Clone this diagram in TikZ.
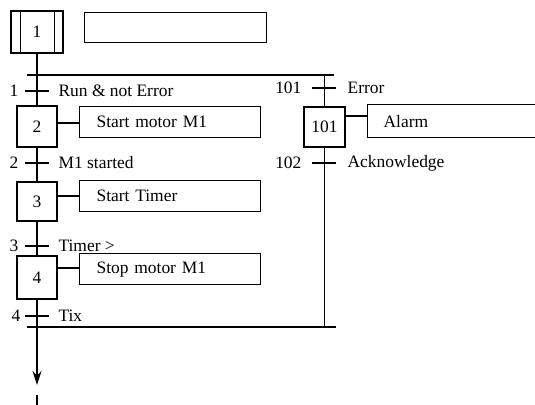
\documentclass[tikz,border=0pt]{standalone}
\usepackage{fontspec}
\setmainfont{Liberation Serif}
\usetikzlibrary{arrows.meta}
\begin{document}
\begin{tikzpicture}[x=1bp,y=-1bp, line width=1.2bp,
  font=\fontsize{17.5}{20}\selectfont,
  stepbox/.style={draw, minimum width=40bp, minimum height=41bp, inner sep=0pt},
  actbox/.style={draw, anchor=north west, minimum height=31bp, text width=147bp,
                 inner xsep=17bp, inner ysep=0pt, align=left},
  numlbl/.style={anchor=east, inner sep=0pt},
  condlbl/.style={anchor=west, inner sep=0pt},
  tick/.style={line width=1.1bp}]
\clip (0,0) rectangle (535,404);
\fill[white] (0,0) rectangle (535,404);

% initial step
\node[draw, minimum width=52bp, minimum height=42bp, inner sep=0pt] (s1) at (37,32) {1};
\draw (s1.north west) ++(10,0) coordinate (i1t) -- (i1t |- s1.south);
\draw (s1.north east) ++(-9,0) coordinate (i2t) -- (i2t |- s1.south);
\node[draw, anchor=north west, minimum width=182bp, minimum height=30bp, inner sep=0pt] (a1) at (84,12) {};

% steps
\node[stepbox] (s2) at (37,126.5) {2};
\node[stepbox, minimum height=39bp] (s3) at (37,201.5) {3};
\node[stepbox, minimum height=43bp] (s4) at (37,277.5) {4};
\node[stepbox, minimum height=40bp, minimum width=41bp] (s101) at (324.5,127) {101};

% actions
\node[actbox] (a2) at (79,106) {Start motor M1};
\node[actbox] (a3) at (79,180) {Start Timer};
\node[actbox] (a4) at (79,253) {Stop motor M1};
\node[actbox, minimum height=33bp, text width=150bp, inner xsep=16bp] (a101) at (367,104) {Alarm};

\coordinate (c2) at (70,123);
\coordinate (c3) at (70,196);
\coordinate (c4) at (70,268);
\coordinate (c101) at (355,116);
\draw (s2.east |- c2) -- (a2.west |- c2);
\draw (s3.east |- c3) -- (a3.west |- c3);
\draw (s4.east |- c4) -- (a4.west |- c4);
\draw (s101.east |- c101) -- (a101.west |- c101);

% divergence / convergence lines
\coordinate (divL) at (27,75);
\coordinate (divR) at (334,75);
\coordinate (conL) at (27,327);
\coordinate (conR) at (336,327);
\draw (divL) -- (divR);
\draw (conL) -- (conR);

% transitions
\coordinate (t1) at (37,91);
\coordinate (t2) at (37,163);
\coordinate (t3) at (37,246);
\coordinate (t4) at (37,316);
\coordinate (t101) at (324,88);
\coordinate (t102) at (324,163);

% vertical lines
\draw (s1.south) -- (s2.north);
\draw (s2.south) -- (s3.north);
\draw (s3.south) -- (s4.north);
\draw (s4.south) -- (s4.south |- conL);
\draw (s101.north |- divR) -- (s101.north);
\draw (s101.south) -- (s101.south |- conR);

% ticks
\foreach \t in {t1,t2,t3,t4,t101,t102}
  \draw[tick] (\t) ++(-12,0) -- ++(24,0);

% transition labels
\node[numlbl] (n1) at (19,91) {1};
\node[numlbl] (n2) at (19,163) {2};
\node[numlbl] (n3) at (19,246) {3};
\node[numlbl] (n4) at (21,316) {4};
\node[numlbl] (n101) at (302,88) {101};
\node[numlbl] (n102) at (302,163) {102};
\node[condlbl] (l1) at (58,91) {Run \& not Error};
\node[condlbl] (l2) at (58,163) {M1 started};
\node[condlbl] (l3) at (58,246) {Timer >};
\node[condlbl] (l4) at (58,316) {Tix};
\node[condlbl] (l101) at (347,88) {Error};
\node[condlbl] (l102) at (347,163) {Acknowledge};

% arrow back
\coordinate (arrEnd) at (37,385);
\coordinate (retA) at (37,395);
\coordinate (retB) at (37,406);
\draw[-{Stealth[length=14bp,width=9bp]}] (s4.south |- conL) -- (arrEnd);
\draw (retA) -- (retB);
\end{tikzpicture}
\end{document}
